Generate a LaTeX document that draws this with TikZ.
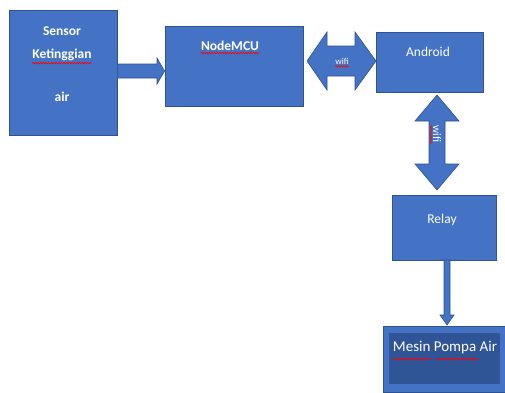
\documentclass[tikz,border=0pt]{standalone}
\usepackage{fontspec}
\setmainfont{Carlito}
\usetikzlibrary{decorations.pathmorphing}
\definecolor{boxblue}{HTML}{4472C4}
\definecolor{boxedge}{HTML}{2F528F}
\definecolor{darkblue}{HTML}{2F5597}
\tikzset{
  box/.style={draw=boxedge, fill=boxblue, line width=0.8pt, inner sep=0pt},
  fatarrow/.style={draw=boxedge, fill=boxblue, line width=0.6pt, line join=miter},
  lbl/.style={text=white, inner sep=0pt, font=\fontsize{13.5}{16}\selectfont},
  blbl/.style={text=white, inner sep=0pt, font=\fontsize{13.5}{16}\selectfont\bfseries},
  small/.style={text=white, inner sep=0pt, font=\fontsize{9}{10}\selectfont},
  spell/.style={draw=red, line width=0.6pt, decorate, decoration={snake, amplitude=0.8pt, segment length=2.6pt}}
}
\begin{document}
\begin{tikzpicture}[x=1pt,y=-1pt]
\useasboundingbox[fill=white] (0,0) rectangle (505,392);
% boxes
\node[box, minimum width=108pt, minimum height=125pt] (sensor) at (63,72.5) {};
\node[box, minimum width=138pt, minimum height=80pt] (mcu) at (234,66) {};
\node[box, minimum width=107pt, minimum height=60pt] (android) at (429.5,62) {};
\node[box, minimum width=104pt, minimum height=65pt] (relay) at (444,227.5) {};
\node[box, minimum width=122pt, minimum height=66pt] (mesin) at (444,359) {};
\node[fill=darkblue, draw=none, minimum width=111pt, minimum height=51pt, inner sep=0pt] (mesinin) at (444.5,358.5) {};
% texts
\node[blbl] (t1) at (62,31) {Sensor};
\node[blbl] (t2) at (62,55) {Ketinggian};
\node[blbl] (t3) at (62,97) {air};
\node[blbl] (t4) at (230,46) {NodeMCU};
\node[lbl] (t5) at (428,52) {Android};
\node[lbl] (t6) at (442,220) {Relay};
\node[lbl, font=\fontsize{15}{18}\selectfont] (t7) at (445,348) {Mesin Pompa Air};
% sensor -> nodemcu
\draw[fatarrow] (sensor.east |- 0,64) -- (157,64) -- (157,58) -- (mcu.west |- 0,71) -- (157,84) -- (157,78) -- (sensor.east |- 0,78) -- cycle;
% nodemcu <-> android (wifi)
\draw[fatarrow] (307,61) -- (327,32) -- (327,46) -- (355,46) -- (355,32) -- (376,61) -- (355,90) -- (355,76) -- (327,76) -- (327,90) -- cycle;
\node[small] (w1) at (342,61) {wifi};
% android <-> relay (wifi)
\draw[fatarrow] (437,95) -- (459,121) -- (445,121) -- (445,164) -- (459,164) -- (437,190) -- (415,164) -- (429,164) -- (429,121) -- (415,121) -- cycle;
\node[small, font=\fontsize{11.5}{13}\selectfont, rotate=-90] (w2) at (437,134) {wifi};
% relay -> mesin
\draw[fatarrow] (444,260) -- (450,260) -- (450,315) -- (454,315) -- (447,325) -- (440,315) -- (444,315) -- cycle;
% spell-check underlines
\draw[spell] ([yshift=-2pt]t2.south west) -- ([yshift=-2pt]t2.south east);
\draw[spell] ([yshift=-2pt]t4.south west) -- ([yshift=-2pt]t4.south east);
\draw[spell] ([yshift=-2pt]w1.south west) -- ([yshift=-2pt]w1.south east);
\draw[spell] (431,125) -- (431,144);
\draw[spell] (393,359) -- (431,359);
\draw[spell] (436,359) -- (478,359);
\end{tikzpicture}
\end{document}
